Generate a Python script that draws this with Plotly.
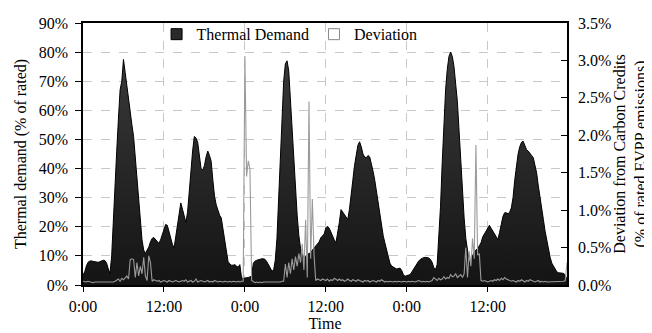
import plotly.graph_objects as go

# Time axis: 15-minute samples over three days (hours)
hours = [i * 0.25 for i in range(288)]

# Thermal demand (% of rated), 12 samples (3 h) per row
thermal_demand = [
    3.5, 4.5, 6.5, 7.8, 8.2, 8.3, 8.1, 8.0, 7.9, 7.8, 8.0, 8.3,
    8.5, 8.4, 7.5, 5.5, 4.0, 10.0, 24.0, 36.0, 46.0, 57.0, 67.0, 70.0,
    77.5, 73.0, 68.0, 65.0, 60.0, 55.0, 51.0, 44.0, 35.0, 28.0, 21.0, 15.5,
    12.0, 10.8, 12.0, 13.0, 14.8, 16.0, 16.3, 15.5, 15.0, 14.3, 15.5, 17.5,
    19.5, 20.8, 20.5, 18.0, 16.0, 14.0, 12.7, 17.0, 21.0, 25.0, 28.2, 26.0,
    23.5, 21.5, 25.0, 33.0, 41.0, 46.0, 51.0, 50.5, 49.0, 44.0, 40.0, 39.5,
    41.0, 44.0, 46.0, 44.5, 42.5, 36.0, 30.5, 27.5, 25.3, 24.0, 23.0, 19.0,
    15.6, 11.5, 8.1, 7.2, 6.8, 6.8, 7.0, 6.5, 6.1, 7.0, 2.5, 2.3,
    2.3, 2.5, 2.6, 2.8, 3.0, 7.5, 8.2, 8.5, 8.7, 8.8, 9.0, 9.0,
    8.8, 8.0, 7.0, 5.8, 4.8, 5.0, 8.5, 16.0, 30.0, 42.0, 60.0, 70.0,
    76.0, 77.0, 73.5, 63.0, 55.0, 44.0, 34.0, 24.0, 17.0, 12.5, 10.5, 9.3,
    9.8, 10.5, 10.8, 11.0, 12.0, 12.7, 13.5, 14.0, 14.8, 16.2, 17.0, 17.5,
    19.6, 20.2, 19.5, 18.0, 17.0, 15.5, 14.5, 17.5, 21.5, 25.9, 25.0, 24.0,
    23.5, 22.5, 26.0, 32.0, 36.0, 41.0, 45.0, 48.0, 49.2, 47.5, 45.0, 44.0,
    43.7, 44.5, 44.0, 42.0, 39.1, 36.0, 32.0, 28.0, 24.0, 21.0, 17.0, 14.5,
    12.0, 10.0, 7.5, 6.5, 6.0, 5.8, 5.5, 5.6, 5.8, 5.0, 3.5, 3.0,
    3.2, 3.4, 3.6, 4.5, 5.5, 6.5, 7.5, 8.2, 8.8, 9.2, 9.4, 9.5,
    9.5, 9.3, 8.8, 7.8, 6.0, 5.3, 7.0, 16.0, 27.0, 42.0, 56.0, 67.0,
    74.0, 78.5, 80.0, 78.5, 75.0, 69.0, 63.0, 53.0, 42.0, 33.0, 23.0, 16.0,
    11.0, 8.0, 8.5, 10.0, 11.5, 12.0, 12.5, 13.5, 14.5, 16.5, 17.5, 18.5,
    20.0, 20.5, 19.5, 18.5, 17.9, 16.5, 15.6, 18.0, 21.0, 23.5, 24.8, 24.8,
    24.5, 25.0, 26.5, 30.0, 36.0, 41.0, 45.0, 47.5, 49.0, 49.4, 48.0, 46.5,
    46.0, 45.4, 44.5, 43.7, 41.5, 38.5, 34.0, 29.5, 26.0, 22.5, 18.5, 15.5,
    12.0, 9.5, 7.5, 6.5, 5.0, 4.5, 4.2, 4.1, 4.0, 4.0, 3.2, 2.0,
]

# Deviation from carbon credits (% of rated EVPP emissions)
deviation = [
    0.05, 0.04, 0.04, 0.05, 0.04, 0.04, 0.03, 0.04, 0.04, 0.03, 0.03, 0.04,
    0.03, 0.04, 0.04, 0.03, 0.03, 0.03, 0.04, 0.05, 0.06, 0.08, 0.05, 0.09,
    0.07, 0.10, 0.12, 0.08, 0.34, 0.35, 0.34, 0.10, 0.30, 0.12, 0.25, 0.15,
    0.37, 0.12, 0.06, 0.39, 0.30, 0.05, 0.07, 0.06, 0.05, 0.06, 0.04, 0.05,
    0.06, 0.05, 0.04, 0.06, 0.05, 0.04, 0.05, 0.06, 0.05, 0.04, 0.05, 0.06,
    0.05, 0.07, 0.04, 0.05, 0.06, 0.04, 0.05, 0.08, 0.04, 0.05, 0.06, 0.05,
    0.04, 0.05, 0.06, 0.04, 0.05, 0.04, 0.06, 0.05, 0.04, 0.05, 0.04, 0.04,
    0.05, 0.04, 0.04, 0.05, 0.04, 0.05, 0.04, 0.04, 0.05, 0.04, 0.05, 0.05,
    3.06, 1.45, 1.66, 1.55, 0.06, 0.04, 0.03, 0.04, 0.03, 0.04, 0.03, 0.04,
    0.04, 0.03, 0.04, 0.03, 0.04, 0.04, 0.03, 0.04, 0.03, 0.04, 0.05, 0.05,
    0.28, 0.10, 0.30, 0.15, 0.35, 0.20, 0.38, 0.25, 0.42, 0.30, 0.55, 0.20,
    0.87, 0.10, 2.45, 0.35, 1.15, 0.40, 0.06, 0.08, 0.07, 0.06, 0.08, 0.07,
    0.06, 0.08, 0.05, 0.07, 0.06, 0.09, 0.07, 0.06, 0.08, 0.06, 0.07, 0.05,
    0.06, 0.08, 0.06, 0.05, 0.07, 0.06, 0.05, 0.07, 0.06, 0.05, 0.04, 0.06,
    0.05, 0.06, 0.04, 0.05, 0.06, 0.05, 0.04, 0.06, 0.05, 0.07, 0.05, 0.04,
    0.05, 0.04, 0.05, 0.04, 0.04, 0.05, 0.04, 0.05, 0.04, 0.04, 0.05, 0.04,
    0.04, 0.05, 0.04, 0.05, 0.04, 0.04, 0.05, 0.06, 0.05, 0.04, 0.05, 0.04,
    0.05, 0.04, 0.05, 0.06, 0.10, 0.08, 0.06, 0.09, 0.07, 0.08, 0.11, 0.08,
    0.10, 0.09, 0.14, 0.11, 0.12, 0.15, 0.10, 0.12, 0.14, 0.10, 0.15, 0.50,
    0.10, 0.45, 0.25, 0.62, 0.35, 1.87, 0.40, 0.42, 0.06, 0.05, 0.06, 0.05,
    0.04, 0.05, 0.06, 0.05, 0.07, 0.06, 0.08, 0.06, 0.09, 0.07, 0.10, 0.08,
    0.07, 0.06, 0.05, 0.06, 0.05, 0.04, 0.06, 0.05, 0.07, 0.05, 0.04, 0.06,
    0.05, 0.07, 0.06, 0.05, 0.04, 0.05, 0.06, 0.04, 0.05, 0.04, 0.05, 0.04,
    0.04, 0.05, 0.04, 0.05, 0.04, 0.04, 0.05, 0.04, 0.04, 0.05, 0.06, 0.30,
]

x_tick_vals = [0, 12, 24, 36, 48, 60]
x_tick_text = ["0:00", "12:00", "0:00", "12:00", "0:00", "12:00"]
left_tick_vals = [0, 10, 20, 30, 40, 50, 60, 70, 80, 90]
left_tick_text = ["0%", "10%", "20%", "30%", "40%", "50%", "60%", "70%", "80%", "90%"]
right_tick_vals = [0.0, 0.5, 1.0, 1.5, 2.0, 2.5, 3.0, 3.5]
right_tick_text = ["0.0%", "0.5%", "1.0%", "1.5%", "2.0%", "2.5%", "3.0%", "3.5%"]

FONT = '"Liberation Serif", "Times New Roman", Times, serif'

fig = go.Figure()

fig.add_trace(go.Scatter(
    x=hours, y=thermal_demand, mode="lines", fill="tozeroy",
    line=dict(color="black", width=1),
    fillcolor="#222222",
    fillgradient=dict(type="vertical", colorscale=[[0, "#141414"], [1, "#3a3a3a"]],
                      start=0, stop=80),
    showlegend=False, name="Thermal Demand",
))

fig.add_trace(go.Scatter(
    x=hours, y=deviation, mode="lines", yaxis="y2",
    line=dict(color="#9a9a9a", width=1.1),
    showlegend=False, name="Deviation",
))

# legend-only entries
fig.add_trace(go.Scatter(
    x=[None], y=[None], mode="markers", name="Thermal Demand",
    marker=dict(symbol="square", size=11, color="#2a2a2a", line=dict(color="black", width=1)),
))
fig.add_trace(go.Scatter(
    x=[None], y=[None], mode="markers", name="Deviation", yaxis="y2",
    marker=dict(symbol="square", size=11, color="white", line=dict(color="#888888", width=1)),
))

tick_font = dict(family=FONT, size=16, color="black")
title_font = dict(family=FONT, size=16, color="black")

fig.update_layout(
    width=652, height=333,
    margin=dict(l=75, r=93, t=15, b=56, autoexpand=False),
    paper_bgcolor="white", plot_bgcolor="white",
    font=dict(family=FONT, size=16, color="black"),
    xaxis=dict(
        range=[0, 71.75], tickmode="array", tickvals=x_tick_vals, ticktext=x_tick_text,
        ticks="outside", ticklen=5, tickcolor="black", tickwidth=1.2,
        showgrid=True, gridcolor="#c8c8c8", griddash="dash", gridwidth=1,
        showline=True, linecolor="black", linewidth=1.5, mirror=True, zeroline=False,
        tickfont=tick_font, ticklabelstandoff=1,
        title=dict(text="Time", font=title_font, standoff=0),
    ),
    yaxis=dict(
        range=[0, 90], tickmode="array", tickvals=left_tick_vals, ticktext=left_tick_text,
        ticks="outside", ticklen=6, tickcolor="black", tickwidth=1.2,
        showgrid=True, gridcolor="#c8c8c8", griddash="dash", gridwidth=1,
        showline=True, linecolor="black", linewidth=1.5, zeroline=False,
        tickfont=tick_font, ticklabelstandoff=4,
        title=dict(text="Thermal demand (% of rated)", font=title_font, standoff=8),
    ),
    yaxis2=dict(
        range=[0, 3.5], tickmode="array", tickvals=right_tick_vals, ticktext=right_tick_text,
        overlaying="y", side="right",
        ticks="inside", ticklen=6, tickcolor="black", tickwidth=1.2,
        showgrid=False, showline=True, linecolor="black", linewidth=1.5, zeroline=False,
        tickfont=tick_font, ticklabelstandoff=6,
        title=dict(text="Deviation from Carbon Credits<br>(% of rated EVPP emissions)",
                   font=title_font, standoff=2),
    ),
    legend=dict(
        orientation="h", x=0.152, xanchor="left", y=0.957, yanchor="middle",
        bgcolor="rgba(0,0,0,0)", font=dict(family=FONT, size=16, color="black"),
        itemwidth=30, traceorder="normal",
    ),
)

fig.write_html("out.html")
